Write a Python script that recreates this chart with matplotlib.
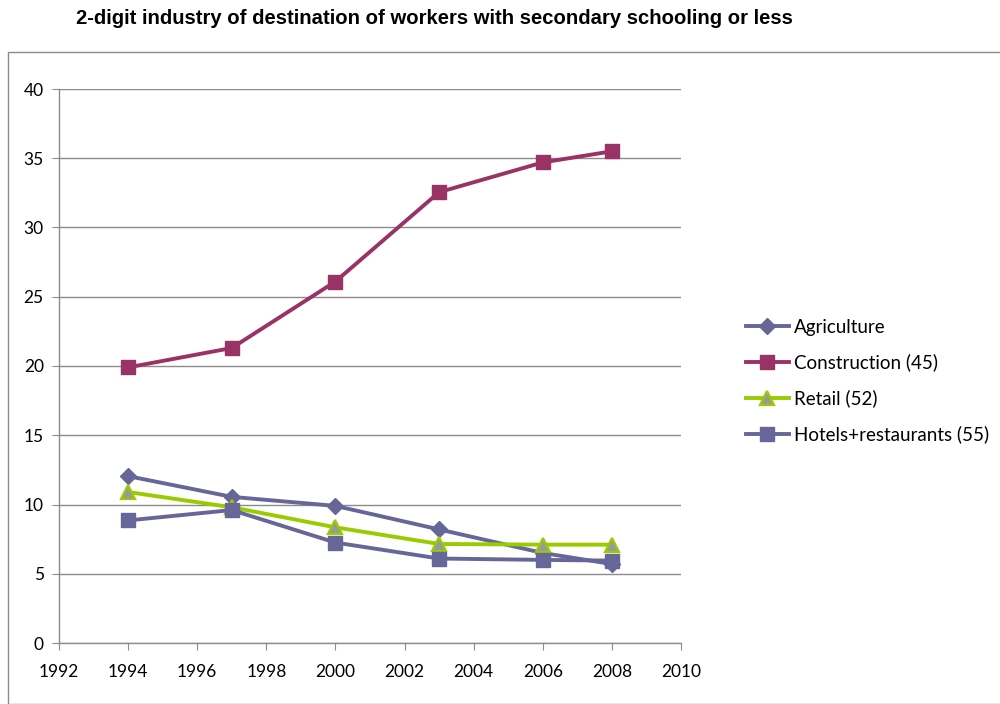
import matplotlib
matplotlib.use("Agg")
import matplotlib.pyplot as plt
from matplotlib.patches import Rectangle

years = [1994, 1997, 2000, 2003, 2006, 2008]
agriculture = [12.05, 10.55, 9.9, 8.2, 6.5, 5.7]
construction = [19.9, 21.3, 26.1, 32.55, 34.7, 35.5]
retail = [10.9, 9.8, 8.35, 7.15, 7.1, 7.1]
hotels = [8.85, 9.6, 7.25, 6.1, 6.0, 5.95]
labels = ["Agriculture", "Construction (45)", "Retail (52)", "Hotels+restaurants (55)"]
xticks = list(range(1992, 2011, 2))
yticks = list(range(0, 41, 5))
title = "2-digit industry of destination of workers with secondary schooling or less"

fig = plt.figure(figsize=(10, 7.04), dpi=100)
fig.patches.append(Rectangle((8/1000, 0), 1.2, 1 - 52/704, transform=fig.transFigure,
                             fill=False, edgecolor="#8c8c8c", linewidth=1.0))
fig.text(76/1000, 1 - 19/704, title, fontsize=14.6, fontweight="bold",
         family="Liberation Sans", va="center", ha="left")

ax = fig.add_axes([59/1000, 1 - 643/704, (681 - 59)/1000, (643 - 89)/704])
tick_font = dict(family="Lato", size=12.5)

c_purple = "#666699"
c_con = "#993366"
c_green = "#99cc00"
lw = 2.8
ax.plot(years, agriculture, color=c_purple, lw=lw, marker="D", ms=8.5,
        mfc=c_purple, mec=c_purple, label=labels[0], zorder=3)
ax.plot(years, construction, color=c_con, lw=lw, marker="s", ms=10,
        mfc=c_con, mec=c_con, label=labels[1], zorder=3)
ax.plot(years, retail, color=c_green, lw=lw, marker="^", ms=10,
        mfc="#999999", mec=c_green, mew=1.6, label=labels[2], zorder=3)
ax.plot(years, hotels, color=c_purple, lw=lw, marker="s", ms=10,
        mfc=c_purple, mec=c_purple, label=labels[3], zorder=3)

ax.set_xlim(1992, 2010)
ax.set_ylim(0, 40)
ax.set_xticks(xticks)
ax.set_yticks(yticks)
ax.set_xticklabels([str(x) for x in xticks], fontdict=tick_font)
ax.set_yticklabels([str(y) for y in yticks], fontdict=tick_font)
ax.grid(axis="y", color="#8c8c8c", lw=1.0)
ax.set_axisbelow(True)
for s in ["top", "right"]:
    ax.spines[s].set_visible(False)
for s in ["left", "bottom"]:
    ax.spines[s].set_color("#8c8c8c")
    ax.spines[s].set_linewidth(1.0)
ax.tick_params(axis="both", direction="out", length=5, color="#8c8c8c", pad=6)
ax.tick_params(axis="x", pad=10)

leg = fig.legend(loc="center left", bbox_to_anchor=(729/1000, 1 - 381/704),
                 frameon=False, handlelength=2.3, handletextpad=0.28,
                 labelspacing=0.95, prop=dict(family="Lato", size=13.5))
fig.savefig("out.png", dpi=100)
